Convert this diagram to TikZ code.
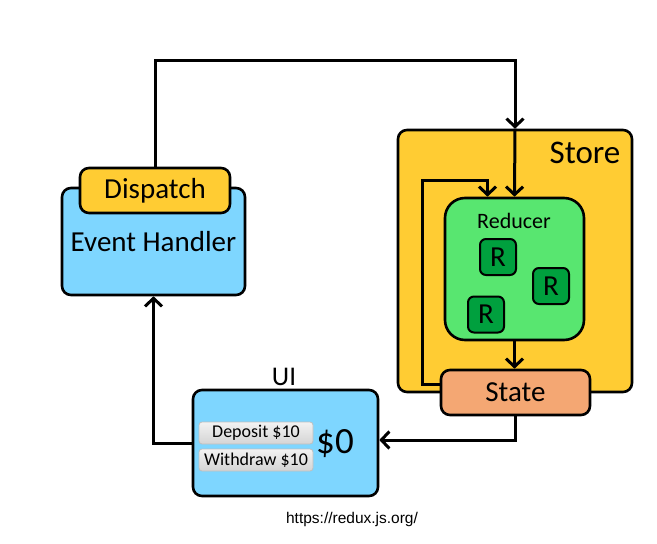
\documentclass[tikz,border=0pt]{standalone}
\usepackage{fontspec}
\setmainfont{Carlito}
\newfontfamily\urlfont{Liberation Sans}
\usepackage{tikz}
\usetikzlibrary{shapes,arrows,arrows.meta,backgrounds,positioning,fit,calc}
\definecolor{ehblue}{RGB}{126,214,255}
\definecolor{dispyellow}{RGB}{255,204,51}
\definecolor{redgreen}{RGB}{88,230,112}
\definecolor{rgreen}{RGB}{0,160,62}
\definecolor{statesalmon}{RGB}{244,167,115}
\definecolor{btngray}{RGB}{212,212,212}

\begin{document}
\begin{tikzpicture}[x=1pt,y=-1pt,
    box/.style={draw,line width=2.6pt,rounded corners=9pt,inner sep=0},
    btn/.style={draw=black!25,line width=0.8pt,rounded corners=3pt,top color=white!95!black,bottom color=btngray,
      minimum width=114,minimum height=22,font=\fontsize{18}{18}\selectfont},
    rbox/.style={box,line width=2pt,fill=rgreen,rounded corners=6pt,minimum width=36,minimum height=36,font=\fontsize{29}{29}\selectfont},
    flow/.style={line width=3pt,->},
    >={Straight Barb[length=8pt,width=17pt]}]
    \useasboundingbox (0,0) rectangle (657,544);
    % event handler with dispatch on top
    \node[box,fill=ehblue,minimum width=183,minimum height=107,font=\fontsize{29}{29}\selectfont] (eh) at (153.5,241.5) {Event Handler};
    \node[box,fill=dispyellow,minimum width=150,minimum height=45,font=\fontsize{29}{29}\selectfont] (disp) at (155,190.5) {Dispatch};
    % store
    \node[box,fill=dispyellow,minimum width=234,minimum height=262] (store) at (515,261) {};
    \node[font=\fontsize{33}{33}\selectfont] (storelbl) at (585,153) {Store};
    \node[box,fill=redgreen,rounded corners=20pt,minimum width=139,minimum height=142] (red) at (514.5,269) {};
    \node[font=\fontsize{22}{22}\selectfont] (redlbl) at (514,221) {Reducer};
    \node[rbox] (r1) at (498,257) {R};
    \node[rbox] (r2) at (551,286) {R};
    \node[rbox] (r3) at (486,314.5) {R};
    \node[box,fill=statesalmon,minimum width=149,minimum height=45,font=\fontsize{29}{29}\selectfont] (state) at (515.5,392.5) {State};
    % ui
    \node[box,fill=ehblue,minimum width=185,minimum height=106] (ui) at (285.5,443) {};
    \node[font=\fontsize{27}{27}\selectfont] (uilbl) at (284,377) {UI};
    \node[btn] (dep) at (256,433) {Deposit \$10};
    \node[btn] (wd) at (256,460) {Withdraw \$10};
    \node[font=\fontsize{37}{37}\selectfont] (bal) at (335,444) {\$0};
    % connectors
    \draw[flow] (disp.north) |- (515,60) -- (store.north);
    \draw[flow] (store.north) -- (red.north);
    \draw[flow] ([yshift=8pt]state.west) -| (422,180) -| ([xshift=-27pt]red.north);
    \draw[flow] (red.south) -- (red.south |- state.north);
    \draw[flow] (state.south) |- ([yshift=3pt]ui.east);
    \draw[flow] (ui.west) -| (eh.south);
    \node[font=\urlfont\fontsize{15.5}{15.5}\selectfont] (url) at (352,519) {https://redux.js.org/};
  \end{tikzpicture}
\end{document}
